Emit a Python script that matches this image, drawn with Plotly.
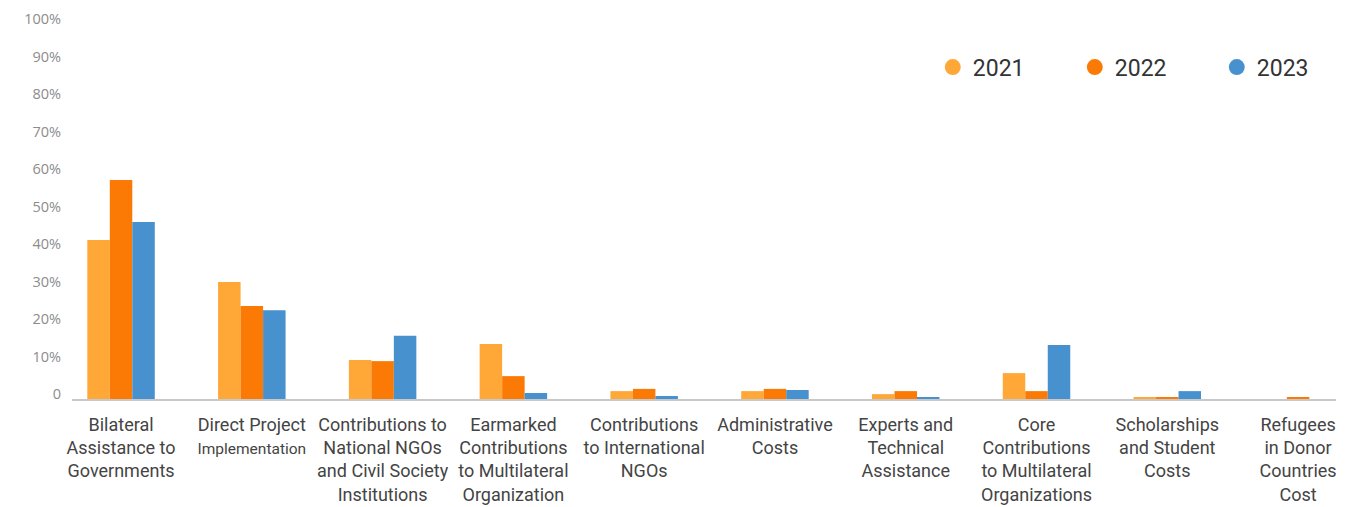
import plotly.graph_objects as go

categories = [
    "Bilateral<br>Assistance to<br>Governments",
    "Direct Project<br><span style='font-size:15.5px'>Implementation</span>",
    "Contributions to<br>National NGOs<br>and Civil Society<br>Institutions",
    "Earmarked<br>Contributions<br>to Multilateral<br>Organization",
    "Contributions<br>to International<br>NGOs",
    "Administrative<br>Costs",
    "Experts and<br>Technical<br>Assistance",
    "Core<br>Contributions<br>to Multilateral<br>Organizations",
    "Scholarships<br>and Student<br>Costs",
    "Refugees<br>in Donor<br>Countries<br>Cost",
]

v2021 = [42.4, 31.2, 10.4, 14.7, 2.1, 2.1, 1.3, 6.9, 0.5, 0.0]
v2022 = [58.4, 24.8, 10.1, 6.1, 2.7, 2.7, 2.1, 2.1, 0.3, 0.3]
v2023 = [47.2, 23.7, 16.9, 1.6, 0.8, 2.4, 0.3, 14.4, 2.1, 0.0]

years = ["2021", "2022", "2023"]
colors = ["#FFA737", "#FB7A05", "#4891CF"]

ytickvals = [0, 10, 20, 30, 40, 50, 60, 70, 80, 90, 100]
yticktext = ["0", "10%", "20%", "30%", "40%", "50%", "60%", "70%", "80%", "90%", "100%"]

fig = go.Figure()
for name, vals, c in zip(years, [v2021, v2022, v2023], colors):
    fig.add_trace(go.Bar(x=categories, y=vals, name=name, marker_color=c,
                         marker_line_width=0, showlegend=False))
for name, c in zip(years, colors):
    fig.add_trace(go.Scatter(x=[None], y=[None], mode="markers", name=name,
                             marker=dict(color=c, size=19, symbol="circle")))

fig.update_layout(
    width=1370, height=507,
    margin=dict(l=72, r=34, t=24, b=108, autoexpand=False),
    paper_bgcolor="white", plot_bgcolor="white",
    barmode="group", bargap=0.484, bargroupgap=0,
    legend=dict(orientation="h", x=0.681, xanchor="left", y=0.885, yanchor="middle",
                font=dict(family="Roboto", size=23, color="#333333"),
                entrywidth=97, bgcolor="rgba(0,0,0,0)"),
    xaxis=dict(range=[-0.375, 9.29], showgrid=False, showline=True,
               linecolor="#C8C8C8", linewidth=2, ticks="", automargin=False,
               tickfont=dict(family="Roboto", size=18, color="#444444"),
               ticklabelstandoff=8, fixedrange=True),
    yaxis=dict(range=[0, 100], tickvals=ytickvals, ticktext=yticktext, automargin=False,
               showgrid=False, zeroline=False, showline=False, ticks="",
               tickfont=dict(family="Open Sans", size=14.5, color="#8C8C8C"),
               ticklabelstandoff=10, ticklabelshift=-5, fixedrange=True),
)

fig.write_html("out.html", config={"displayModeBar": False},
               post_script="document.body.style.margin='0';document.body.style.overflow='hidden';")
